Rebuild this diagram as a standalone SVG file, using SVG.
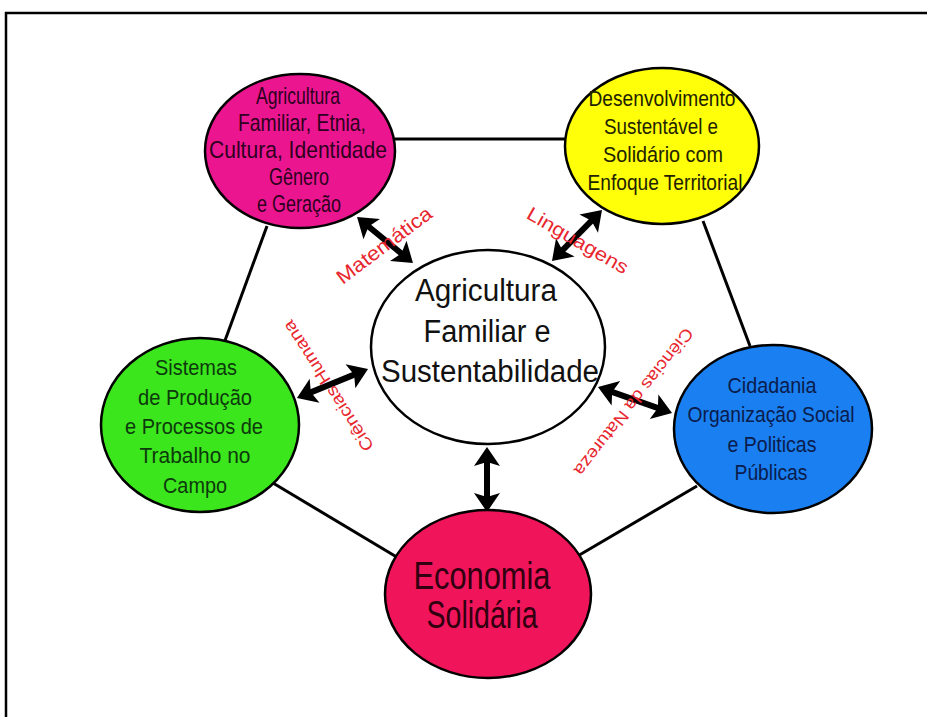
<svg xmlns="http://www.w3.org/2000/svg" width="927" height="717" viewBox="0 0 927 717">
<defs>
<style>
.node{stroke:#000;stroke-width:2.5}
.edge{stroke:#000;stroke-width:3;fill:none}
.arr{stroke:#000;stroke-width:6;fill:none;marker-start:url(#head);marker-end:url(#head)}
.t{font-family:"Liberation Sans",Arial,sans-serif;text-anchor:middle}
.red{font-family:"Liberation Sans",Arial,sans-serif;text-anchor:middle;fill:#e8262e}
</style>
<marker id="head" viewBox="-15 -14 21 28" refX="0" refY="0" markerWidth="21" markerHeight="28" markerUnits="userSpaceOnUse" orient="auto-start-reverse">
<path d="M-14,-13 L5,0 L-14,13 L-10,0 z" fill="#000"/>
</marker>
</defs>
<rect width="927" height="717" fill="#fff"/>
<path d="M6,717 V13 H927" fill="none" stroke="#000" stroke-width="2.5"/>

<g id="connectors">
<line class="edge" x1="392" y1="139" x2="568" y2="139"/>
<line class="edge" x1="267" y1="226" x2="223" y2="346"/>
<line class="edge" x1="703" y1="221" x2="750" y2="346"/>
<line class="edge" x1="273" y1="483" x2="400" y2="559"/>
<line class="edge" x1="697" y1="486" x2="576" y2="557"/>
<line class="arr" x1="360.9" y1="220.2" x2="409.1" y2="259.8"/>
<line class="arr" x1="598.5" y1="213.6" x2="555.5" y2="257.4"/>
<line class="arr" x1="301.6" y1="396.1" x2="363.4" y2="370.9"/>
<line class="arr" x1="602.7" y1="388.7" x2="667.3" y2="411.3"/>
<line class="arr" x1="487" y1="452" x2="487" y2="507"/>
</g>

<g id="labels">
<text class="red" font-size="20" textLength="114" lengthAdjust="spacingAndGlyphs" transform="translate(384,245) rotate(-37)" y="7">Matemática</text>
<text class="red" font-size="19" textLength="114" lengthAdjust="spacingAndGlyphs" transform="translate(578,240) rotate(30)" y="7">Linguagens</text>
<text class="red" font-size="17" textLength="152" lengthAdjust="spacingAndGlyphs" transform="translate(328,386) rotate(-123)" y="6">Ciências Humana</text>
<text class="red" font-size="17" textLength="182" lengthAdjust="spacingAndGlyphs" transform="translate(634,402) rotate(128)" y="6">Ciências da Natureza</text>
</g>

<g id="n-agricultura">
<ellipse class="node" cx="300" cy="151" rx="95" ry="77" fill="#ec1590"/>
<g class="t" font-size="24" fill="#2e0020">
<text x="298" y="104" textLength="84" lengthAdjust="spacingAndGlyphs">Agricultura</text>
<text x="302" y="131" textLength="128" lengthAdjust="spacingAndGlyphs">Familiar, Etnia,</text>
<text x="298" y="158" textLength="178" lengthAdjust="spacingAndGlyphs">Cultura, Identidade</text>
<text x="299" y="185" textLength="60" lengthAdjust="spacingAndGlyphs">Gênero</text>
<text x="299" y="212" textLength="84" lengthAdjust="spacingAndGlyphs">e Geração</text>
</g>
</g>

<g id="n-desenvolvimento">
<ellipse class="node" cx="662" cy="146" rx="97" ry="78" fill="#ffff0a"/>
<g class="t" font-size="22" fill="#222200">
<text x="662" y="106" textLength="147" lengthAdjust="spacingAndGlyphs">Desenvolvimento</text>
<text x="661" y="134" textLength="114" lengthAdjust="spacingAndGlyphs">Sustentável e</text>
<text x="663" y="162" textLength="120" lengthAdjust="spacingAndGlyphs">Solidário  com</text>
<text x="665" y="190" textLength="155" lengthAdjust="spacingAndGlyphs">Enfoque Territorial</text>
</g>
</g>

<g id="n-centro">
<ellipse class="node" cx="488" cy="347" rx="117" ry="97" fill="#fff" stroke-width="3"/>
<g class="t" font-size="31" fill="#111">
<text x="486" y="301" textLength="142" lengthAdjust="spacingAndGlyphs">Agricultura</text>
<text x="487" y="342" textLength="127" lengthAdjust="spacingAndGlyphs">Familiar e</text>
<text x="490" y="382" textLength="218" lengthAdjust="spacingAndGlyphs">Sustentabilidade</text>
</g>
</g>

<g id="n-sistemas">
<ellipse class="node" cx="200" cy="425" rx="99" ry="87" fill="#3ce61c"/>
<g class="t" font-size="22" fill="#0c3a0c">
<text x="196" y="375" textLength="82" lengthAdjust="spacingAndGlyphs">Sistemas</text>
<text x="195" y="405" textLength="114" lengthAdjust="spacingAndGlyphs">de Produção</text>
<text x="194" y="434" textLength="138" lengthAdjust="spacingAndGlyphs">e Processos de</text>
<text x="195" y="463" textLength="111" lengthAdjust="spacingAndGlyphs">Trabalho  no</text>
<text x="195" y="493" textLength="64" lengthAdjust="spacingAndGlyphs">Campo</text>
</g>
</g>

<g id="n-cidadania">
<ellipse class="node" cx="773" cy="429" rx="99" ry="84" fill="#1a7ff0"/>
<g class="t" font-size="22" fill="#0a1c4c">
<text x="772" y="393" textLength="89" lengthAdjust="spacingAndGlyphs">Cidadania</text>
<text x="771" y="422" textLength="167" lengthAdjust="spacingAndGlyphs">Organização Social</text>
<text x="772" y="452" textLength="89" lengthAdjust="spacingAndGlyphs">e Politicas</text>
<text x="771" y="480" textLength="73" lengthAdjust="spacingAndGlyphs">Públicas</text>
</g>
</g>

<g id="n-economia">
<ellipse class="node" cx="488" cy="594" rx="103" ry="84" fill="#f0145a"/>
<g class="t" font-size="38" fill="#300010">
<text x="482" y="589" textLength="137" lengthAdjust="spacingAndGlyphs">Economia</text>
<text x="482" y="628" textLength="111" lengthAdjust="spacingAndGlyphs">Solidária</text>
</g>
</g>
</svg>
